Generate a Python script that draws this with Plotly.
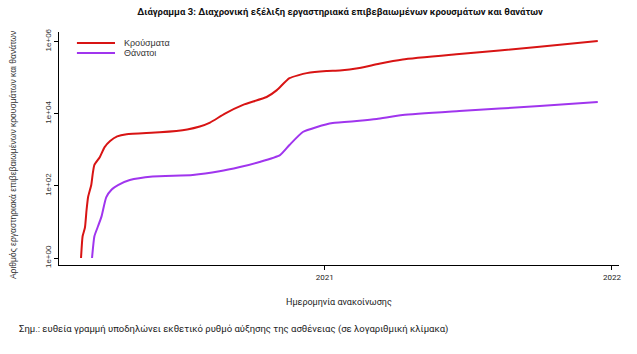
import plotly.graph_objects as go

# ---- data ----
case_dates = ["2020-02-26", "2020-02-28", "2020-03-02", "2020-03-04", "2020-03-06",
              "2020-03-10", "2020-03-12", "2020-03-14", "2020-03-21", "2020-03-27",
              "2020-04-03", "2020-04-12", "2020-04-24", "2020-06-05", "2020-07-10",
              "2020-07-26", "2020-08-08", "2020-08-27", "2020-09-19", "2020-10-19",
              "2020-11-01", "2020-11-17", "2020-12-09", "2021-01-03", "2021-01-20",
              "2021-02-14", "2021-03-11", "2021-04-10", "2021-06-21", "2021-10-01",
              "2021-12-14"]
cases = [1, 4, 7, 21, 49, 105, 224, 380, 630, 1175, 1740, 2340, 2690, 3020, 3630,
         4370, 5620, 10000, 17400, 28800, 44700, 95500, 132000, 151000, 155000,
         182000, 240000, 316000, 447000, 708000, 1023000]

death_dates = ["2020-03-11", "2020-03-14", "2020-03-18", "2020-03-23", "2020-03-29",
               "2020-04-05", "2020-04-13", "2020-04-28", "2020-05-27", "2020-07-17",
               "2020-08-20", "2020-09-15", "2020-10-10", "2020-11-05", "2020-11-17",
               "2020-12-04", "2020-12-22", "2021-01-11", "2021-02-14", "2021-03-08",
               "2021-04-10", "2021-06-21", "2021-10-01", "2021-12-14"]
deaths = [1, 4, 7, 14, 48, 79, 105, 145, 182, 200, 251, 331, 457, 708, 1350, 3090,
          4270, 5500, 6310, 7080, 9120, 11750, 16200, 20900]

series_names = ["Κρούσματα", "Θάνατοι"]
series_colors = ["#D81414", "#A035EE"]

y_tick_vals = [1, 100, 10000, 1000000]
y_tick_text = ["1e+00", "1e+02", "1e+04", "1e+06"]
x_tick_vals = ["2021-01-01", "2022-01-01"]
x_tick_text = ["2021", "2022"]

title_text = "Διάγραμμα 3: Διαχρονική εξέλιξη εργαστηριακά επιβεβαιωμένων κρουσμάτων και θανάτων"
y_title = "Αριθμός εργαστηριακά επιβεβαιωμένων κρουσμάτων και θανάτων"
x_title = "Ημερομηνία ανακοίνωσης"
note_text = "Σημ.: ευθεία γραμμή υποδηλώνει εκθετικό ρυθμό αύξησης της ασθένειας (σε λογαριθμική κλίμακα)"

CAL = "Roboto, 'Noto Sans', sans-serif"
ARIAL = "'Liberation Sans', Arial, sans-serif"

fig = go.Figure()
for d, v, name, col in [(case_dates, cases, series_names[0], series_colors[0]),
                        (death_dates, deaths, series_names[1], series_colors[1])]:
    fig.add_trace(go.Scatter(x=d, y=v, mode="lines", name=name,
                             line=dict(color=col, width=2, shape="spline", smoothing=0.5),
                             showlegend=False, hoverinfo="skip"))

# manual legend (R style)
leg_y = [0.953, 0.910]
for i, (name, col) in enumerate(zip(series_names, series_colors)):
    fig.add_shape(type="line", xref="paper", yref="paper", x0=0.032, x1=0.100,
                  y0=leg_y[i], y1=leg_y[i], line=dict(color=col, width=2))
    fig.add_annotation(xref="paper", yref="paper", x=0.112, y=leg_y[i], text=name,
                       showarrow=False, xanchor="left", yanchor="middle",
                       font=dict(family=ARIAL, size=9, color="#333"))

fig.add_annotation(xref="paper", yref="paper", x=-0.082, y=0.472, text=y_title,
                   textangle=-90, showarrow=False, xanchor="center", yanchor="middle",
                   font=dict(family=ARIAL, size=8.5, color="#333"))
fig.add_annotation(xref="paper", yref="paper", x=0.5, y=-0.159, text=x_title,
                   showarrow=False, xanchor="center", yanchor="middle",
                   font=dict(family=CAL, size=9, color="#222"))
fig.add_annotation(xref="paper", yref="paper", x=-0.075, y=-0.275, text=note_text,
                   showarrow=False, xanchor="left", yanchor="middle",
                   font=dict(family=CAL, size=9.5, color="#222"))

fig.update_layout(
    width=637, height=354,
    margin=dict(l=59, r=18, t=32, b=89),
    paper_bgcolor="white", plot_bgcolor="white",
    title=dict(text="<b>" + title_text + "</b>", x=0.534, xanchor="center",
               y=1 - 12 / 354, yanchor="middle",
               font=dict(family=CAL, size=9.5, color="#111")),
    xaxis=dict(type="date", range=["2020-01-29", "2022-01-10"],
               tickvals=x_tick_vals, ticktext=x_tick_text,
               showgrid=False, zeroline=False, showline=True, linecolor="#000",
               linewidth=1, ticks="outside", ticklen=4, tickcolor="#000",
               tickfont=dict(family=CAL, size=8, color="#222")),
    yaxis=dict(type="log", range=[-0.194, 6.26],
               tickvals=y_tick_vals, ticktext=y_tick_text, tickangle=-90,
               showgrid=False, zeroline=False, showline=True, linecolor="#000",
               linewidth=1, ticks="outside", ticklen=4, tickcolor="#000",
               tickfont=dict(family=ARIAL, size=8, color="#333")),
)

fig.write_html("out.html")
